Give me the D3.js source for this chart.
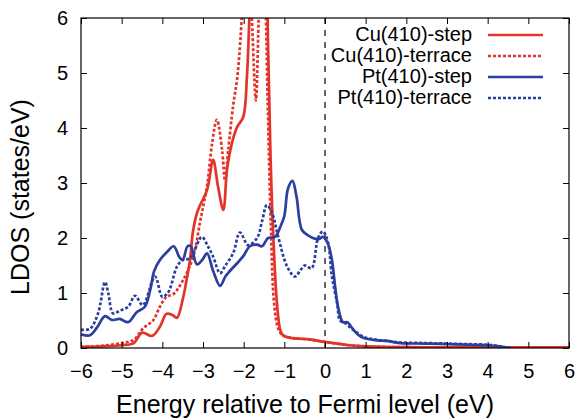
<!DOCTYPE html>
<html>
<head>
<meta charset="utf-8">
<script src="https://cdn.jsdelivr.net/npm/d3@7"></script>
<style>
  body { margin: 0; background: #fff; }
  svg { display: block; font-family: "Liberation Sans", Arial, Helvetica, sans-serif; }
</style>
</head>
<body>
<svg id="chart" width="579" height="420"></svg>
<script>
// energies (eV) and LDOS values
const cuStepE = [-6, -5.5, -5, -4.7, -4.5, -4.25, -4.05, -3.9, -3.75, -3.64, -3.5, -3.4, -3.32, -3.25, -3.15, -3.07, -2.9, -2.75, -2.63, -2.5, -2.41, -2.29, -2.16, -2.01, -1.92, -1.84, -1.75, -1.6, -1.47, -1.4, -1.34, -1.27, -1.18, -1.1, -1.03, -0.8, -0.44, 0, 0.3, 0.6, 1, 1.4, 2, 3, 4, 5, 6]
const cuStepV = [0.02, 0.03, 0.05, 0.09, 0.28, 0.22, 0.4, 0.62, 0.6, 0.55, 0.88, 1.25, 1.6, 2.1, 2.45, 2.6, 2.87, 3.42, 2.93, 2.51, 3.24, 3.72, 4.02, 4.2, 4.93, 6.3, 7.2, 7.5, 7.2, 5.5, 3.5, 2.0, 0.8, 0.33, 0.23, 0.18, 0.16, 0.11, 0.08, 0.05, 0.03, 0.02, 0.015, 0.01, 0.01, 0.01, 0.01]

const cuTerrE = [-6, -5.5, -5, -4.7, -4.47, -4.23, -4.06, -3.9, -3.73, -3.5, -3.24, -3.07, -2.9, -2.78, -2.66, -2.53, -2.46, -2.38, -2.26, -2.16, -2.08, -2.0, -1.9, -1.8, -1.7, -1.62, -1.55, -1.48, -1.41, -1.33, -1.25, -1.15, -1.05, -0.8, -0.44, 0, 0.3, 0.6, 1, 1.4, 2, 3, 4, 5, 6]
const cuTerrV = [0.02, 0.04, 0.09, 0.15, 0.36, 0.5, 0.75, 0.93, 0.98, 1.22, 1.66, 2.3, 2.95, 3.7, 4.15, 3.6, 3.05, 3.6, 4.4, 4.9, 5.6, 6.6, 7.2, 6.0, 4.5, 6.2, 7.0, 6.5, 4.5, 2.2, 0.8, 0.35, 0.24, 0.18, 0.16, 0.11, 0.08, 0.05, 0.03, 0.02, 0.015, 0.01, 0.01, 0.01, 0.01]

const ptStepE = [-6, -5.78, -5.6, -5.41, -5.24, -5.05, -4.84, -4.63, -4.43, -4.3, -4.2, -4.06, -3.88, -3.72, -3.58, -3.5, -3.38, -3.3, -3.15, -3.02, -2.9, -2.75, -2.58, -2.45, -2.34, -2.15, -2.0, -1.85, -1.67, -1.55, -1.4, -1.23, -1.1, -1.0, -0.91, -0.8, -0.7, -0.57, -0.42, -0.3, -0.15, -0.05, 0.07, 0.17, 0.25, 0.32, 0.44, 0.55, 0.65, 0.8, 0.95, 1.28, 1.52, 1.85, 2.5, 3, 3.5, 4, 4.3, 4.55]
const ptStepV = [0.25, 0.23, 0.38, 0.58, 0.51, 0.53, 0.47, 0.65, 0.75, 1.05, 1.4, 1.6, 1.75, 1.85, 1.65, 1.6, 1.85, 1.85, 1.52, 1.6, 1.72, 1.4, 1.13, 1.3, 1.4, 1.55, 1.68, 1.85, 1.88, 1.85, 2.0, 2.02, 2.2, 2.4, 2.9, 3.04, 2.75, 2.15, 2.05, 2.0, 1.98, 2.02, 1.9, 1.6, 1.11, 0.75, 0.47, 0.47, 0.38, 0.25, 0.18, 0.14, 0.13, 0.09, 0.08, 0.07, 0.06, 0.05, 0.03, 0.0]

const ptTerrE = [-6, -5.78, -5.58, -5.41, -5.33, -5.21, -5.04, -4.84, -4.67, -4.48, -4.18, -4.0, -3.85, -3.64, -3.5, -3.32, -3.03, -2.88, -2.75, -2.58, -2.45, -2.26, -2.09, -1.89, -1.67, -1.55, -1.43, -1.3, -1.15, -0.93, -0.74, -0.6, -0.5, -0.33, -0.17, -0.05, 0.07, 0.17, 0.3, 0.37, 0.5, 0.61, 0.75, 0.95, 1.28, 1.52, 1.85, 2.5, 3, 3.5, 4, 4.3, 4.55]
const ptTerrV = [0.33, 0.35, 0.63, 1.2, 1.0, 0.63, 0.68, 0.75, 0.95, 0.78, 1.3, 0.93, 1.02, 1.48, 1.6, 1.63, 2.02, 1.85, 1.66, 1.36, 1.5, 1.72, 2.1, 1.87, 2.0, 2.3, 2.6, 2.45, 2.02, 1.48, 1.3, 1.42, 1.5, 1.45, 2.0, 2.12, 1.93, 1.3, 0.81, 0.5, 0.45, 0.38, 0.3, 0.2, 0.15, 0.13, 0.1, 0.09, 0.08, 0.07, 0.06, 0.03, 0.0]

const xTicks = [-6, -5, -4, -3, -2, -1, 0, 1, 2, 3, 4, 5, 6]
const yTicks = [0, 1, 2, 3, 4, 5, 6]

const red = "#e3342a"
const blue = "#2b3f9e"

const series = [
  { name: "Cu(410)-step", e: cuStepE, v: cuStepV, color: red, dash: null },
  { name: "Cu(410)-terrace", e: cuTerrE, v: cuTerrV, color: red, dash: "3,2" },
  { name: "Pt(410)-step", e: ptStepE, v: ptStepV, color: blue, dash: null },
  { name: "Pt(410)-terrace", e: ptTerrE, v: ptTerrV, color: blue, dash: "3,2" }
]

const margin = { top: 18, right: 10, bottom: 72, left: 81 }
const width = 579 - margin.left - margin.right
const height = 420 - margin.top - margin.bottom

const svg = d3.select("#chart")
const g = svg.append("g").attr("transform", `translate(${margin.left},${margin.top})`)

const x = d3.scaleLinear().domain([-6, 6]).range([0, width])
const y = d3.scaleLinear().domain([0, 6]).range([height, 0])

g.append("clipPath").attr("id", "clip")
  .append("rect").attr("width", width).attr("height", height)

// fermi level
g.append("line")
  .attr("x1", x(0)).attr("x2", x(0))
  .attr("y1", 0).attr("y2", height)
  .attr("stroke", "#333").attr("stroke-width", 1.5)
  .attr("stroke-dasharray", "6,6")

const line = d3.line()
  .x(d => x(d[0]))
  .y(d => y(d[1]))
  .curve(d3.curveCatmullRom.alpha(0.5))

const plot = g.append("g").attr("clip-path", "url(#clip)")
series.forEach(s => {
  plot.append("path")
    .datum(s.e.map((e, i) => [e, s.v[i]]))
    .attr("d", line)
    .attr("fill", "none")
    .attr("stroke", s.color)
    .attr("stroke-width", 2.7)
    .attr("stroke-dasharray", s.dash)
})

// axes, ticks pointing inward on all four sides
const tickStyle = sel => {
  sel.select(".domain").remove()
  sel.selectAll("line").attr("stroke", "#000")
  sel.selectAll("text").attr("fill", "#000").attr("font-size", 20)
}

g.append("g").attr("transform", `translate(0,${height})`)
  .call(d3.axisBottom(x).tickValues(xTicks).tickSizeInner(-6).tickSizeOuter(0).tickPadding(16).tickFormat(d3.format("d")))
  .call(tickStyle)
  .attr("font-family", null)

g.append("g")
  .call(d3.axisLeft(y).tickValues(yTicks).tickSizeInner(-6).tickSizeOuter(0).tickPadding(13).tickFormat(d3.format("d")))
  .call(tickStyle)
  .attr("font-family", null)

g.append("g")
  .call(d3.axisTop(x).tickValues(xTicks).tickSizeInner(-6).tickSizeOuter(0).tickFormat(""))
  .call(tickStyle)

g.append("g").attr("transform", `translate(${width},0)`)
  .call(d3.axisRight(y).tickValues(yTicks).tickSizeInner(-6).tickSizeOuter(0).tickFormat(""))
  .call(tickStyle)

g.append("rect")
  .attr("width", width).attr("height", height)
  .attr("fill", "none").attr("stroke", "#000").attr("stroke-width", 1.2)

// axis titles
svg.append("text")
  .attr("x", 305).attr("y", 413)
  .attr("text-anchor", "middle").attr("font-size", 25)
  .text("Energy relative to Fermi level (eV)")

svg.append("text")
  .attr("transform", "translate(29,197) rotate(-90)")
  .attr("text-anchor", "middle").attr("font-size", 25)
  .text("LDOS (states/eV)")

// legend
const legend = g.append("g").attr("transform", "translate(0,17)")
series.forEach((s, i) => {
  const row = legend.append("g").attr("transform", `translate(0,${i * 21})`)
  row.append("text")
    .attr("x", 391).attr("y", 6)
    .attr("text-anchor", "end").attr("font-size", 20)
    .text(s.name)
  row.append("line")
    .attr("x1", 407).attr("x2", 462)
    .attr("stroke", s.color).attr("stroke-width", 2.7)
    .attr("stroke-dasharray", s.dash)
})
</script>
</body>
</html>
